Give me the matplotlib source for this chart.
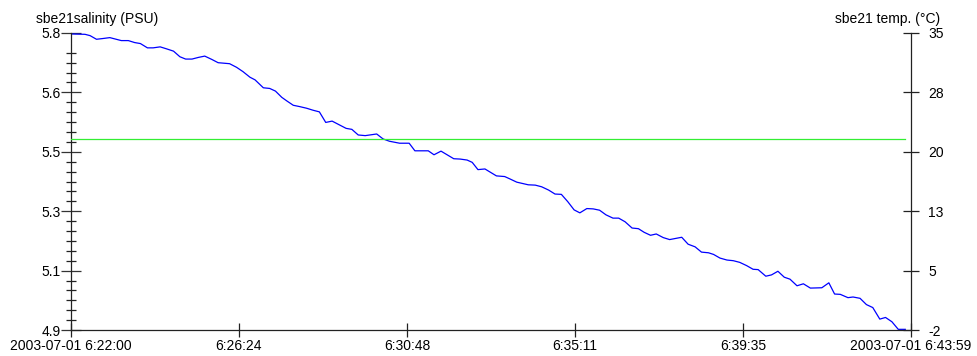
import matplotlib
matplotlib.use("Agg")
import matplotlib.pyplot as plt
import matplotlib.dates as mdates
import numpy as np
import pandas as pd

plt.rcParams["font.family"] = ["Liberation Sans", "DejaVu Sans"]
plt.rcParams["font.size"] = 10

# elapsed seconds from 2003-07-01 06:22:00, salinity (PSU)
elapsed_s = [
    1, 22, 30, 40, 49, 61, 79, 90, 100, 109, 120, 129, 140, 150, 161, 171,
    180, 190, 200, 210, 221, 231, 249, 260, 270, 281, 289, 302, 312, 321,
    331, 339, 349, 359, 370, 380, 390, 400, 410, 422, 432, 441, 451, 462,
    480, 490, 500, 516, 531, 540, 561, 570, 581, 601, 611, 622, 630, 639,
    650, 668, 681, 689, 700, 718, 729, 739, 750, 760, 770, 780, 790, 799,
    810, 820, 830, 840, 851, 860, 870, 881, 891, 900, 910, 919, 930, 940,
    959, 969, 980, 990, 1001, 1009, 1019, 1030, 1040, 1050, 1061, 1071,
    1079, 1091, 1100, 1110, 1120, 1129, 1140, 1150, 1161, 1179, 1190, 1199,
    1208, 1220, 1228, 1239, 1249, 1259, 1270, 1279, 1289, 1299, 1310,
]
salinity = [
    5.797, 5.796, 5.792, 5.781, 5.783, 5.786, 5.777, 5.777, 5.771, 5.768,
    5.755, 5.755, 5.758, 5.752, 5.745, 5.728, 5.721, 5.721, 5.726, 5.730,
    5.720, 5.710, 5.707, 5.696, 5.683, 5.666, 5.658, 5.634, 5.632, 5.624,
    5.605, 5.594, 5.581, 5.577, 5.572, 5.566, 5.561, 5.529, 5.533, 5.521,
    5.511, 5.508, 5.491, 5.489, 5.494, 5.479, 5.472, 5.466, 5.466, 5.443,
    5.443, 5.431, 5.442, 5.419, 5.418, 5.415, 5.408, 5.386, 5.388, 5.367,
    5.365, 5.358, 5.348, 5.340, 5.339, 5.334, 5.324, 5.312, 5.311, 5.289,
    5.264, 5.255, 5.268, 5.267, 5.263, 5.249, 5.239, 5.239, 5.228, 5.209,
    5.207, 5.196, 5.187, 5.191, 5.180, 5.174, 5.181, 5.160, 5.152, 5.136,
    5.134, 5.129, 5.118, 5.112, 5.110, 5.105, 5.095, 5.084, 5.083, 5.063,
    5.067, 5.078, 5.060, 5.054, 5.034, 5.040, 5.027, 5.028, 5.043, 5.009,
    5.008, 4.998, 5.000, 4.996, 4.977, 4.968, 4.933, 4.938, 4.925, 4.902,
    4.902,
]
temp_s = [0, 1310]
temp = [21.8, 21.8]

start = pd.Timestamp("2003-07-01 06:22:00")
end = pd.Timestamp("2003-07-01 06:43:59")
x_labels = ["2003-07-01 6:22:00", "6:26:24", "6:30:48", "6:35:11", "6:39:35",
            "2003-07-01 6:43:59"]
sal_range = (4.9, 5.8)
sal_labels = ["4.9", "5.1", "5.3", "5.5", "5.6", "5.8"]
temp_range = (-2, 35)
temp_labels = ["-2", "5", "13", "20", "28", "35"]

t_sal = mdates.date2num(start + pd.to_timedelta(elapsed_s, unit="s"))
t_temp = mdates.date2num(start + pd.to_timedelta(temp_s, unit="s"))
x0, x1 = mdates.date2num(start), mdates.date2num(end)

fig = plt.figure(figsize=(9.78, 3.56), dpi=100)
ax = fig.add_axes([71 / 978, 1 - 330 / 356, 840 / 978, 297 / 356])
ax2 = ax.twinx()

ax.plot(t_sal, salinity, color="#0000ff", lw=0.9)
ax2.plot(t_temp, temp, color="#33ee33", lw=0.9)

ax.set_xlim(x0, x1)
ax.set_ylim(*sal_range)
ax2.set_ylim(*temp_range)

ax.set_xticks(np.linspace(x0, x1, 6))
ax.set_xticklabels(x_labels)
sal_ticks = np.linspace(*sal_range, 6)
ax.set_yticks(sal_ticks)
ax.set_yticklabels(sal_labels)
minor = []
for a, b in zip(sal_ticks[:-1], sal_ticks[1:]):
    minor.extend(np.linspace(a, b, 7)[1:-1])
# the reference has no minor tick just under the top label
minor = [m for m in minor if m < sal_ticks[-1] - (sal_ticks[1] - sal_ticks[0]) / 6 - 1e-9]
ax.set_yticks(minor, minor=True)
ax2.set_yticks(np.linspace(*temp_range, 6))
ax2.set_yticklabels(temp_labels)

for a in (ax, ax2):
    for s in a.spines.values():
        s.set_color("#222222")
        s.set_linewidth(0.9)
    a.spines["top"].set_visible(False)
ax.spines["right"].set_visible(False)
ax2.spines["left"].set_visible(False)
ax2.spines["bottom"].set_visible(False)

ax.tick_params(axis="y", which="major", direction="inout", length=14, width=0.9,
               color="#333333", pad=0.5)
ax.tick_params(axis="y", which="minor", direction="inout", length=7, width=0.9,
               color="#222222")
ax.tick_params(axis="x", direction="inout", length=10, width=0.9,
               color="#222222", pad=1.5)
ax2.tick_params(axis="y", direction="inout", length=11.5, width=0.9,
                color="#222222", pad=6.5)

fig.text(36 / 978, 1 - 19 / 356, "sbe21salinity (PSU)", ha="left", va="center")
fig.text(940 / 978, 1 - 19 / 356, "sbe21 temp. (°C)", ha="right", va="center")

fig.savefig("out.png", dpi=100)
